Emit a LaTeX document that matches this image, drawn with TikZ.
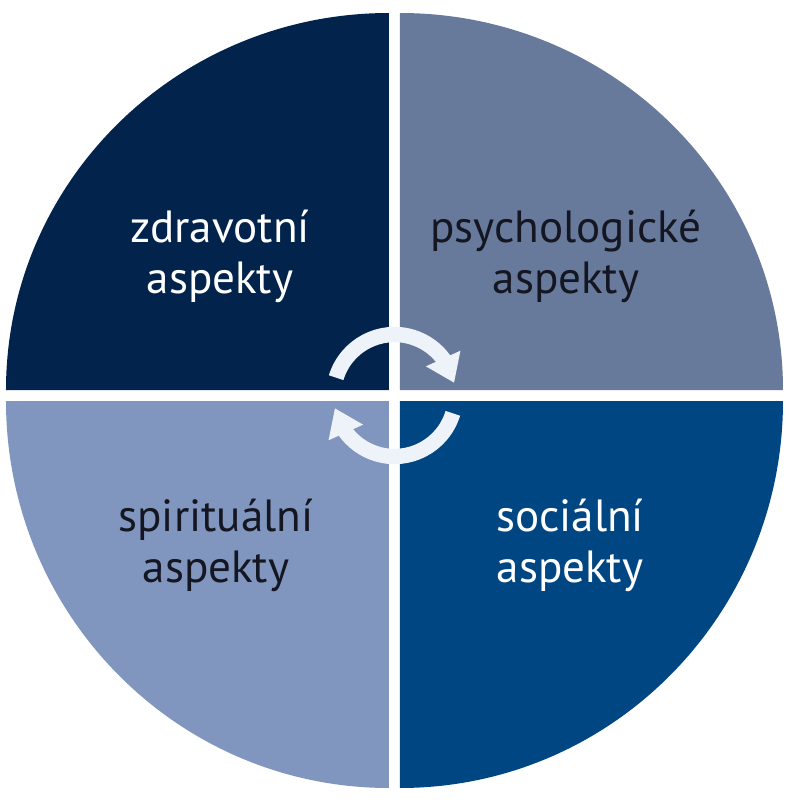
\documentclass[tikz,border=0pt]{standalone}
\usepackage{fontspec}
\setmainfont{PT Sans}
\usetikzlibrary{arrows.meta,bending}
\definecolor{zdravcol}{RGB}{2,36,76}
\definecolor{psychcol}{RGB}{104,122,156}
\definecolor{spircol}{RGB}{128,150,190}
\definecolor{socicol}{RGB}{0,70,130}
\definecolor{cyklcol}{RGB}{238,243,250}
\definecolor{tmavcol}{RGB}{20,22,34}
\begin{document}
\begin{tikzpicture}[x=0.03cm,y=0.03cm]
		\tikzstyle{every node}+=[inner sep=0pt, align=center, font=\fontsize{38.5}{43}\selectfont]
		\useasboundingbox (-394.5,-404.5) rectangle (394.5,395.5);
		\fill [zdravcol] (-5.5,5.5) -- (-388.5,5.5) arc [start angle=180, end angle=90, x radius=383, y radius=377] -- cycle;
		\fill [psychcol] (5.5,5.5) -- (5.5,382.5) arc [start angle=90, end angle=0, x radius=383, y radius=377] -- cycle;
		\fill [spircol] (-5.5,-5.5) -- (-388.5,-5.5) arc [start angle=180, end angle=270, x radius=383, y radius=387] -- cycle;
		\fill [socicol] (5.5,-5.5) -- (388.5,-5.5) arc [start angle=0, end angle=-90, x radius=383, y radius=387] -- cycle;
		\draw (-174.5,139) node [text=white] (zdrav) {zdravotní\\aspekty};
		\draw (171.5,139) node [text=tmavcol] (psych) {psychologické\\aspekty};
		\draw (-178.5,-150) node [text=tmavcol] (spir) {spirituální\\aspekty};
		\draw (175.5,-150) node [text=white] (soci) {sociální\\aspekty};
		\draw [cyklcol, line width=0.46cm, -{Triangle[width=1.08cm,length=0.8cm]}] (163:61) arc [start angle=163, end angle=12, radius=61];
		\draw [cyklcol, line width=0.46cm, -{Triangle[width=1.08cm,length=0.8cm]}] (-17:61) arc [start angle=-17, end angle=-168, radius=61];
\end{tikzpicture}
\end{document}
